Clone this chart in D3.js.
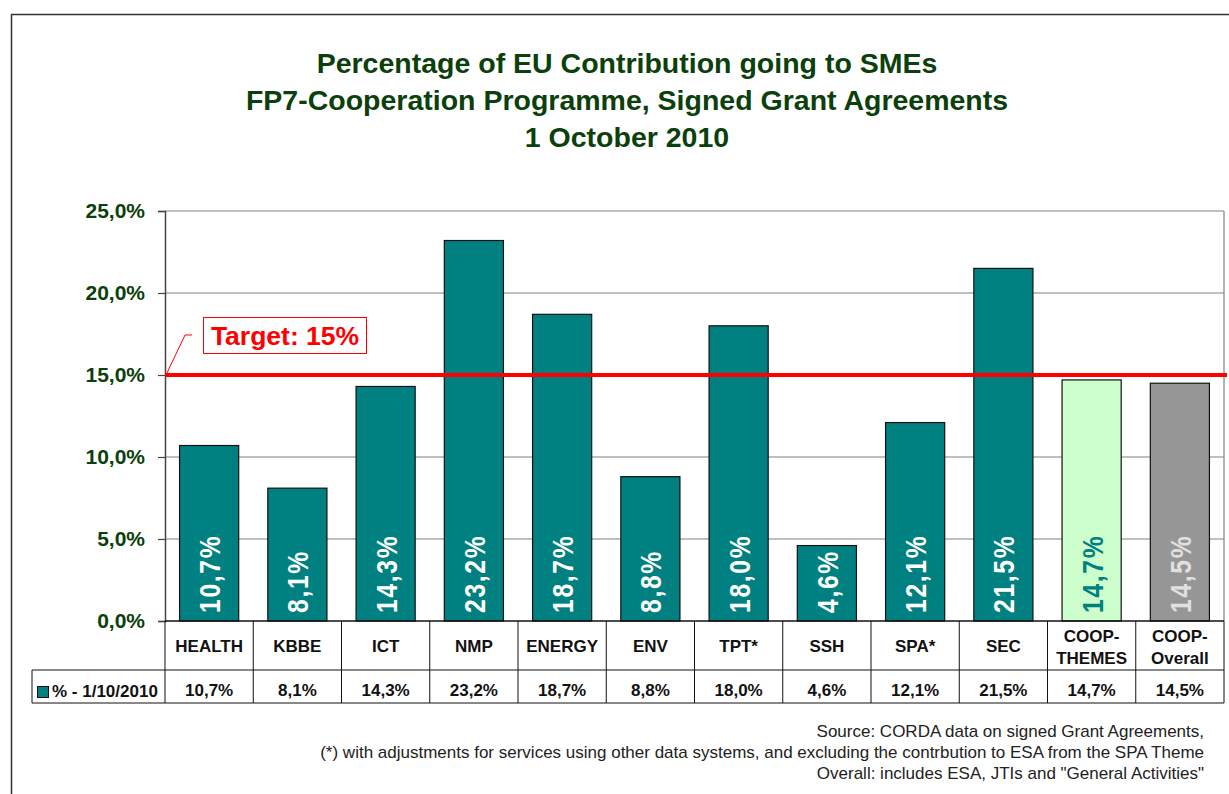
<!DOCTYPE html>
<html><head><meta charset="utf-8">
<script src="https://cdn.jsdelivr.net/npm/d3@7"></script>
<style>body{margin:0;background:#fff}svg{display:block;font-family:"Liberation Sans",Arial,sans-serif}</style>
</head><body><svg id="c" width="1229" height="794"></svg>
<script>
const categories = ["HEALTH","KBBE","ICT","NMP","ENERGY","ENV","TPT*","SSH","SPA*","SEC","COOP-\nTHEMES","COOP-\nOverall"];
const values = [10.7,8.1,14.3,23.2,18.7,8.8,18.0,4.6,12.1,21.5,14.7,14.5];
const yTicks = [0,5,10,15,20,25];
const target = 15;
const seriesName = "% - 1/10/2010";
const titleLines = ["Percentage of EU Contribution going to SMEs","FP7-Cooperation Programme, Signed Grant Agreements","1 October 2010"];
const notes = ["Source: CORDA data on signed Grant Agreements,","(*) with adjustments for services using other data systems, and excluding the contrbution to ESA from the SPA Theme","Overall: includes ESA, JTIs and \"General Activities\""];

const fmt = v => v.toFixed(1).replace(".", ",") + "%";
const svg = d3.select("#c");
const L = 165, R = 1224, T = 211, B = 621;
const x = d3.scaleBand().domain(d3.range(categories.length)).range([L, R]).paddingInner(0.33).paddingOuter(0.165);
const xb = d3.scaleBand().domain(d3.range(categories.length)).range([L, R]);
const y = d3.scaleLinear().domain([0, 25]).range([B, T]);
const green = "#0b3f0b";

// outer border
svg.append("path").attr("d", `M11.5,794 V14.5 H1229`).attr("fill","none").attr("stroke","#333").attr("stroke-width",1.5);

// title
svg.append("g").selectAll("text").data(titleLines).join("text")
  .attr("x", 627).attr("y", (d,i) => 73 + i*37).attr("text-anchor","middle")
  .attr("font-size", 28.5).attr("font-weight","bold").attr("fill", green).text(d => d);

// grid
svg.append("g").selectAll("line").data(yTicks.filter(t => t > 0)).join("line")
  .attr("x1", L).attr("x2", R).attr("y1", d => y(d)).attr("y2", d => y(d))
  .attr("stroke", "#808080").attr("stroke-width", 1.2);
svg.append("line").attr("x1", R).attr("x2", R).attr("y1", T).attr("y2", B).attr("stroke","#808080").attr("stroke-width",1.2);

// y axis
const ya = svg.append("g").attr("transform", `translate(${L},0)`)
  .call(d3.axisLeft(y).tickValues(yTicks).tickFormat(fmt).tickSize(7).tickPadding(13));
ya.select(".domain").attr("stroke","#444").attr("stroke-width",1.5);
ya.selectAll(".tick line").attr("stroke","#444").attr("stroke-width",1.2);
ya.selectAll(".tick text").attr("font-size",21).attr("font-weight","bold").attr("fill",green)
  .attr("font-family","Liberation Sans, Arial, sans-serif");

// bars
const fills = values.map((v,i) => i === 10 ? "#ccffcc" : i === 11 ? "#969696" : "#008080");
const labelFill = values.map((v,i) => i === 10 ? "#008080" : i === 11 ? "#e0e0e0" : "#ffffff");
svg.append("g").selectAll("rect").data(values).join("rect")
  .attr("x", (d,i) => x(i)).attr("width", x.bandwidth())
  .attr("y", d => y(d)).attr("height", d => B - y(d))
  .attr("fill", (d,i) => fills[i]).attr("stroke","#111").attr("stroke-width",1.2);

// red target line
svg.append("line").attr("x1", L).attr("x2", 1227).attr("y1", y(target)).attr("y2", y(target))
  .attr("stroke", "#ff0000").attr("stroke-width", 4);
svg.append("polyline").attr("points", `${L+1},${y(target)} 185,335 192,335`).attr("fill","none").attr("stroke","#ff0000").attr("stroke-width",1);
svg.append("rect").attr("x",203.5).attr("y",317.5).attr("width",163).attr("height",36).attr("fill","#fff").attr("stroke","#ff0000").attr("stroke-width",1);
svg.append("text").attr("x",285).attr("y",345).attr("text-anchor","middle").attr("font-size",26.5).attr("font-weight","bold").attr("fill","#ff0000").text("Target: " + target + "%");

// bar value labels
svg.append("g").selectAll("text").data(values).join("text")
  .attr("transform", (d,i) => `translate(${x(i) + x.bandwidth()/2 + 11},613) rotate(-90) scale(0.85,1)`)
  .attr("font-size", 29).attr("font-weight","bold").attr("fill", (d,i) => labelFill[i])
  .attr("letter-spacing", 2).text(d => fmt(d));

// table
const tb = svg.append("g");
const r1 = B, r2 = 670, r3 = 703, legL = 32;
tb.append("line").attr("x1", L).attr("x2", R).attr("y1", r1).attr("y2", r1).attr("stroke","#111").attr("stroke-width",1.5);
tb.append("line").attr("x1", legL).attr("x2", R).attr("y1", r2).attr("y2", r2).attr("stroke","#111").attr("stroke-width",1);
tb.append("line").attr("x1", legL).attr("x2", R).attr("y1", r3).attr("y2", r3).attr("stroke","#111").attr("stroke-width",1);
tb.append("line").attr("x1", legL).attr("x2", legL).attr("y1", r2).attr("y2", r3).attr("stroke","#111").attr("stroke-width",1);
tb.selectAll("line.v").data(d3.range(categories.length + 1)).join("line").attr("class","v")
  .attr("x1", i => i < categories.length ? xb(i) : R).attr("x2", i => i < categories.length ? xb(i) : R)
  .attr("y1", r1).attr("y2", r3).attr("stroke","#111").attr("stroke-width",1);
categories.forEach((c,i) => {
  const lines = c.split("\n");
  const cx = xb(i) + xb.bandwidth()/2;
  const t = tb.append("text").attr("text-anchor","middle").attr("font-size",17).attr("font-weight","bold").attr("fill","#111");
  lines.forEach((ln,j) => {
    t.append("tspan").attr("x", cx).attr("y", lines.length === 1 ? 652 : 642 + j*21.5).text(ln);
  });
  tb.append("text").attr("x", cx).attr("y", 696).attr("text-anchor","middle").attr("font-size",17).attr("font-weight","bold").attr("fill","#111").text(fmt(values[i]));
});
tb.append("rect").attr("x",37.5).attr("y",686.5).attr("width",11).attr("height",11).attr("fill","#008080").attr("stroke","#111").attr("stroke-width",1);
tb.append("text").attr("x",52).attr("y",697).attr("font-size",17).attr("font-weight","bold").attr("fill","#111").text(seriesName);

// notes
svg.append("g").selectAll("text").data(notes).join("text")
  .attr("x", 1204).attr("y", (d,i) => 737 + i*21).attr("text-anchor","end")
  .attr("font-size", 17).attr("fill","#222").text(d => d);
</script></body></html>
